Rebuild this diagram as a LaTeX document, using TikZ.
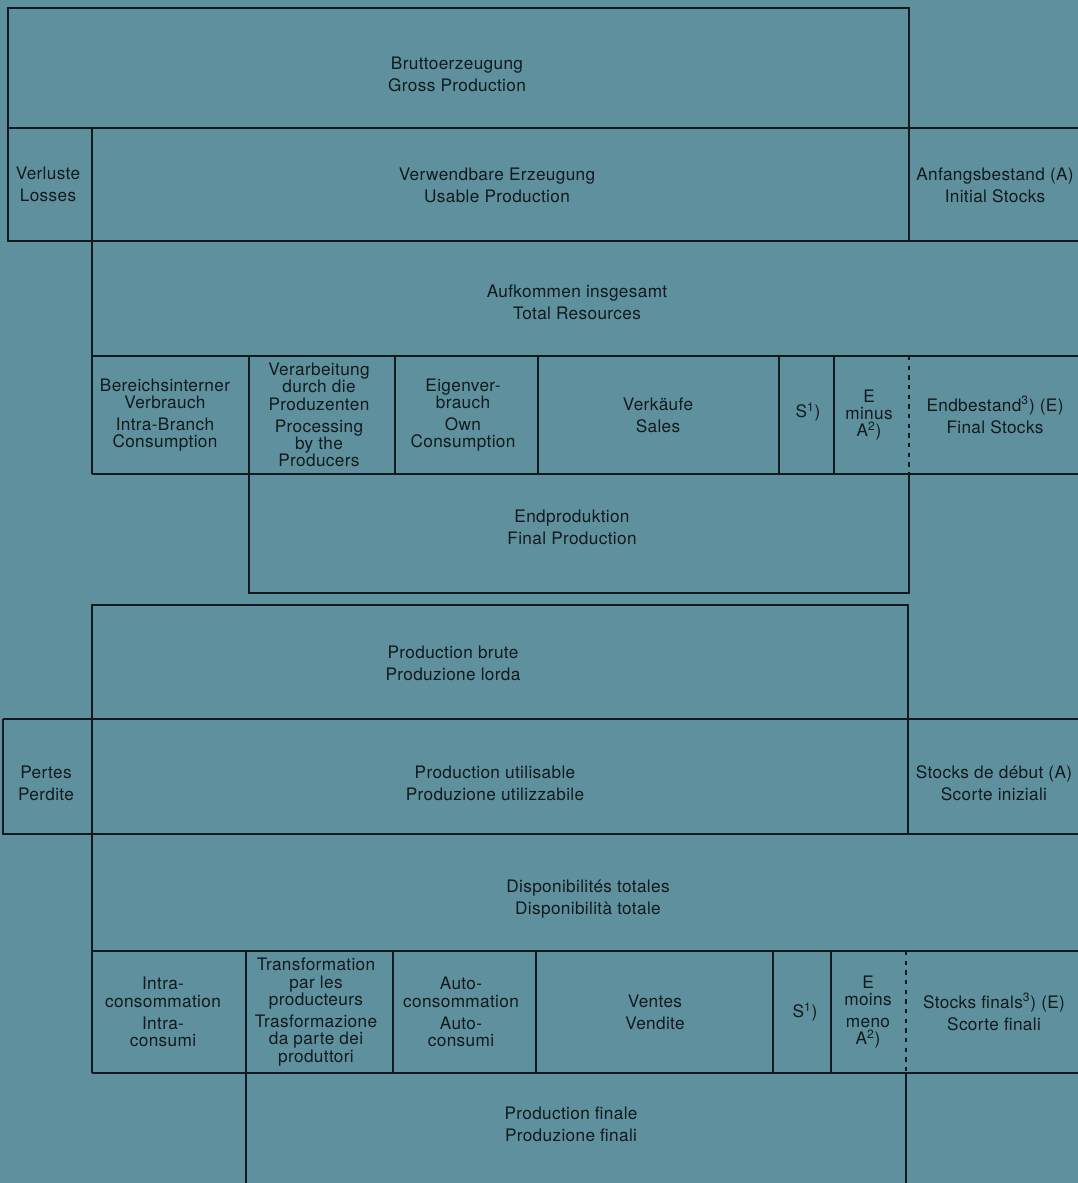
\documentclass[tikz,border=0pt]{standalone}
\usepackage{fontspec}
\setmainfont{TeX Gyre Heros}[LetterSpace=2.0]

\begin{document}
\begin{tikzpicture}[x=0.02cm,y=-0.02cm]

  % Define the card colour and the ink colour
  \definecolor{cardblue}{RGB}{94,145,157}
  \definecolor{inkdark}{RGB}{18,26,30}

  % Apply to everything
  \tikzset{every node/.style={text=inkdark, align=center, font=\fontsize{9.8}{9.9}\selectfont}}
  \tikzset{boxline/.style={draw=inkdark, line width=0.8pt},
           stockline/.style={boxline, dash pattern=on 2.5pt off 3pt}}

  % Card and page size
  \fill[cardblue] (0,0) rectangle (1078,1183);
  \useasboundingbox (0,0) rectangle (1078,1183);

  % German / English block: frame
  \draw[boxline] (8,8) rectangle (909,128);
  \draw[boxline] (909,128) -- (1078,128);
  \draw[boxline] (8,128) -- (8,241) -- (1078,241);
  \draw[boxline] (92,128) -- (92,474);
  \draw[boxline] (909,128) -- (909,241);
  \draw[boxline] (92,356) -- (1078,356);
  \draw[boxline] (92,474) -- (1078,474);
  \foreach \x in {249,395,538,779,834} {
      \draw[boxline] (\x,356) -- (\x,474); % columns of the use row
  }
  \draw[stockline] (909,356) -- (909,474);
  \draw[boxline] (249,474) -- (249,593) -- (909,593) -- (909,474);

  % German / English block: labels
  \node (gross) at (457,74) {Bruttoerzeugung\\[2.6pt]Gross Production};
  \node (losses) at (48,184) {Verluste\\[2.6pt]Losses};
  \node (usable) at (497,185) {Verwendbare Erzeugung\\[2.6pt]Usable Production};
  \node (initial) at (995,185) {Anfangsbestand (A)\\[2.6pt]Initial Stocks};
  \node (total) at (577,302) {Aufkommen insgesamt\\[2.6pt]Total Resources};
  \node (intra) at (165,415) {Bereichsinterner\\Verbrauch\\[2.6pt]Intra-Branch\\Consumption};
  \node (processing) at (319,415) {Verarbeitung\\durch die\\Produzenten\\[2.6pt]Processing\\by the\\Producers};
  \node (own) at (463,415) {Eigenver-\\brauch\\[2.6pt]Own\\Consumption};
  \node (sales) at (658,415) {Verkäufe\\[2.6pt]Sales};
  \node (subsidy) at (808,412) {S\textsuperscript{1})};
  \node (change) at (869,415) {E\\minus\\A\textsuperscript{2})};
  \node (final) at (995,415) {Endbestand\textsuperscript{3}) (E)\\[2.6pt]Final Stocks};
  \node (endprod) at (572,527) {Endproduktion\\[2.6pt]Final Production};

  % French / Italian block: frame
  \draw[boxline] (92,719) -- (92,605) -- (908,605) -- (908,719);
  \draw[boxline] (3,719) -- (1078,719);
  \draw[boxline] (3,719) -- (3,834) -- (1078,834);
  \draw[boxline] (92,719) -- (92,1073);
  \draw[boxline] (908,719) -- (908,834);
  \draw[boxline] (92,951) -- (1078,951);
  \draw[boxline] (92,1073) -- (1078,1073);
  \foreach \x in {246,393,536,773,831} {
      \draw[boxline] (\x,951) -- (\x,1073); % columns of the use row
  }
  \draw[stockline] (906,951) -- (906,1073);
  \draw[boxline] (246,1073) -- (246,1183);
  \draw[boxline] (906,1073) -- (906,1183);

  % French / Italian block: labels
  \node (brute) at (453,663) {Production brute\\[2.6pt]Produzione lorda};
  \node (pertes) at (46,783) {Pertes\\[2.6pt]Perdite};
  \node (utilisable) at (495,783) {Production utilisable\\[2.6pt]Produzione utilizzabile};
  \node (debut) at (994,783) {Stocks de début (A)\\[2.6pt]Scorte iniziali};
  \node (dispo) at (588,899) {Disponibilités totales\\[2.6pt]Disponibilità totale};
  \node (intracons) at (163,1012) {Intra-\\consommation\\[2.6pt]Intra-\\consumi};
  \node (transfo) at (316,1012) {Transformation\\par les\\producteurs\\[2.6pt]Trasformazione\\da parte dei\\produttori};
  \node (autocons) at (461,1012) {Auto-\\consommation\\[2.6pt]Auto-\\consumi};
  \node (ventes) at (655,1012) {Ventes\\[2.6pt]Vendite};
  \node (subv) at (805,1012) {S\textsuperscript{1})};
  \node (variation) at (868,1012) {E\\moins\\[2.6pt]meno\\A\textsuperscript{2})};
  \node (finals) at (994,1012) {Stocks finals\textsuperscript{3}) (E)\\[2.6pt]Scorte finali};
  \node (finale) at (571,1124) {Production finale\\[2.6pt]Produzione finali};

\end{tikzpicture}
\end{document}
